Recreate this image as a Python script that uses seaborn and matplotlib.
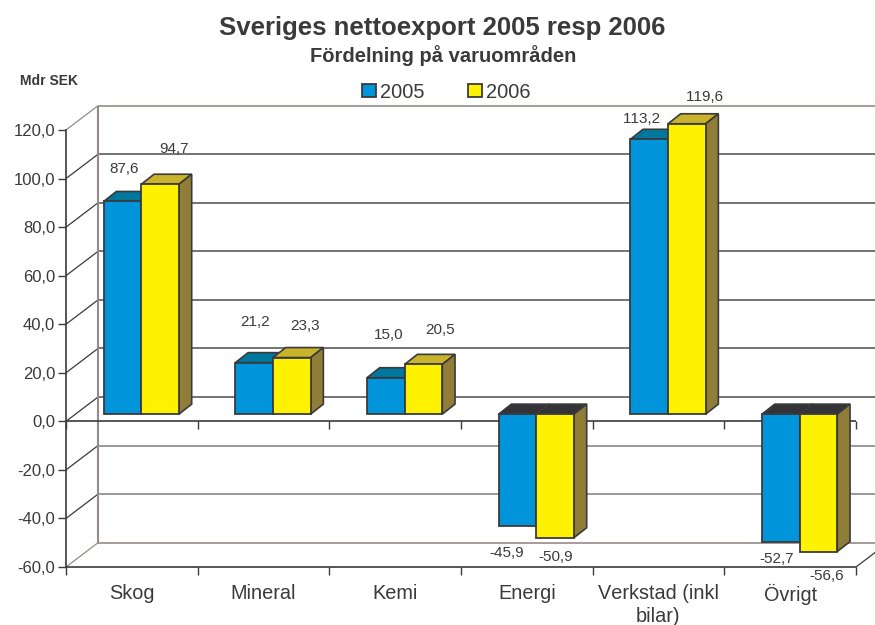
import matplotlib
matplotlib.use("Agg")
import matplotlib.pyplot as plt
from matplotlib.patches import Polygon
import numpy as np
import pandas as pd
import seaborn as sns

categories = ['Skog', 'Mineral', 'Kemi', 'Energi', 'Verkstad (inkl\nbilar)', 'Övrigt']
values_2005 = [87.6, 21.2, 15.0, -45.9, 113.2, -52.7]
values_2006 = [94.7, 23.3, 20.5, -50.9, 119.6, -56.6]
y_ticks = [-60, -40, -20, 0, 20, 40, 60, 80, 100, 120]

# label nudges from the bar's front top edge, pixels (moved by hand in the original)
label_dx_2005 = [2, 1, 3, -11, -7, -4]
label_dy_2005 = [32, 41, 43, -27, 20, -17]
label_dx_2006 = [14, 13, 17, 1, 18, 8]
label_dy_2006 = [35, 32, 34, -19, 27, -24]

BLUE = '#0095DA'
YELLOW = '#FFF200'
TOP_BLUE = '#00789E'
TOP_YELLOW = '#C9B32A'
SIDE = '#8F7D38'
TOP_NEG = '#333338'
DARK = '#3A3A3C'
WALL = '#968A86'
GRID = '#5E5A5A'
GRID_NEG = '#8A8686'

sns.set_theme(style="white")
plt.rcParams['font.family'] = ['Liberation Sans', 'DejaVu Sans']
plt.rcParams['text.color'] = DARK
plt.rcParams['xtick.color'] = DARK
plt.rcParams['ytick.color'] = DARK
plt.rcParams['text.kerning_factor'] = 6

fig = plt.figure(figsize=(8.75, 6.25), dpi=100)
ax = fig.add_axes([66 / 875, 1 - 567 / 625, 790 / 875, 437 / 625])

df = pd.DataFrame({
    'cat': categories * 2,
    'year': ['2005'] * 6 + ['2006'] * 6,
    'val': values_2005 + values_2006,
})
sns.barplot(data=df, x='cat', y='val', hue='year', palette=[BLUE, YELLOW],
            width=0.572, gap=0, edgecolor=DARK, linewidth=1.3, saturation=1,
            ax=ax, zorder=5)

ax.set_xlim(-0.5, 5.5)
ax.set_ylim(-60, 120)

# pixels to data units
px_x = 1 / (790 / 6)
px_y = 1 / (437 / 180)
wall_dx, wall_dy = 32 * px_x, 24.3 * px_y
bar_dx, bar_dy = 9.5 * px_x, 7.2 * px_y
depth_x, depth_y = 12.7 * px_x, 10 * px_y


def line(xs, ys, color, lw=1.0, z=1):
    ax.plot(xs, ys, color=color, lw=lw, zorder=z, clip_on=False, solid_capstyle='butt')


# back wall and left side wall
x0, x1 = -0.5, 5.5
for t in y_ticks:
    edge = t in (120, -60)
    col = WALL if edge else (GRID_NEG if t <= 0 and t != 0 else GRID)
    line([x0 + wall_dx, x1 + wall_dx], [t + wall_dy, t + wall_dy], col, 1.2)
    line([x0, x0 + wall_dx], [t, t + wall_dy], WALL if edge else DARK, 0.9)
line([x0 + wall_dx, x0 + wall_dx], [-60 + wall_dy, 120 + wall_dy], WALL, 1.5)
line([x1, x1 + wall_dx], [-60, -60 + wall_dy], DARK, 0.9)

# zero line with its own tick marks
line([x0, x1], [0, 0], DARK, 1.2, z=2)
for b in np.arange(x0, x1 + 0.5):
    line([b, b], [0, -8 * px_y], DARK, 1.0, z=2)

# shift the seaborn bars back into the box and add the side and top faces
faces = [(TOP_BLUE, BLUE), (TOP_YELLOW, YELLOW)]
nudges = [(label_dx_2005, label_dy_2005), (label_dx_2006, label_dy_2006)]
for s, container in enumerate(ax.containers):
    top_col = faces[s][0]
    for i, bar in enumerate(container):
        val = bar.get_height()
        bar.set_x(bar.get_x() + bar_dx)
        bar.set_y(bar_dy)
        bar.set_clip_on(False)
        left, right = bar.get_x(), bar.get_x() + bar.get_width()
        high = bar_dy + max(val, 0)
        low = bar_dy + min(val, 0)
        z = 3 + s * 3
        bar.set_zorder(z + 1)
        top = Polygon([(left, high), (left + depth_x, high + depth_y),
                       (right + depth_x, high + depth_y), (right, high)],
                      fc=top_col if val > 0 else TOP_NEG, ec=DARK, lw=1.2,
                      zorder=z, clip_on=False)
        side = Polygon([(right, low), (right + depth_x, low + depth_y),
                        (right + depth_x, high + depth_y), (right, high)],
                       fc=SIDE, ec=DARK, lw=1.2, zorder=z, clip_on=False)
        ax.add_patch(top)
        ax.add_patch(side)
        dx, dy = nudges[s][0][i], nudges[s][1][i]
        edge_y = bar_dy + val
        ax.text((left + right) / 2 + dx * px_x, edge_y + dy * px_y,
                f'{val:.1f}'.replace('.', ','), ha='center', va='center',
                fontsize=11, zorder=10, clip_on=False)

# axes
sns.despine(ax=ax, top=True, right=True)
for sp in ('left', 'bottom'):
    ax.spines[sp].set_color(DARK)
    ax.spines[sp].set_linewidth(1.2)
    ax.spines[sp].set_zorder(2)
ax.set_yticks(y_ticks)
ax.set_yticklabels([f'{t:.1f}'.replace('.', ',') for t in y_ticks])
ax.set_xticks(range(6))
ax.set_xticklabels(categories, linespacing=1.3)
ax.set_xticks(np.arange(x0, x1 + 0.5), minor=True)
ax.tick_params(axis='y', length=5.8, width=1, labelsize=12, left=True, pad=2)
ax.tick_params(axis='x', which='major', length=0, labelsize=14.3, pad=12)
ax.tick_params(axis='x', which='minor', length=5.8, width=1, bottom=True)
ax.set_xlabel('')
ax.set_ylabel('')
ax.patch.set_alpha(0)

handles, labels = ax.get_legend_handles_labels()
ax.legend(handles, labels, ncol=2, frameon=False, fontsize=14.4,
          loc='center left', bbox_to_anchor=(362 / 875, 1 - 92 / 625),
          bbox_transform=fig.transFigure, borderpad=0, borderaxespad=0,
          handlelength=0.68, handleheight=0.6, handletextpad=0.2, columnspacing=2.2)

fig.text(442 / 875, 1 - 28 / 625, 'Sveriges nettoexport 2005 resp 2006',
         ha='center', va='center', fontsize=18.5, fontweight='bold')
fig.text(443 / 875, 1 - 56 / 625, 'Fördelning på varuområden',
         ha='center', va='center', fontsize=14.5, fontweight='bold')
fig.text(20 / 875, 1 - 81 / 625, 'Mdr SEK', ha='left', va='center',
         fontsize=10, fontweight='bold')

fig.savefig('out.png', dpi=100)
